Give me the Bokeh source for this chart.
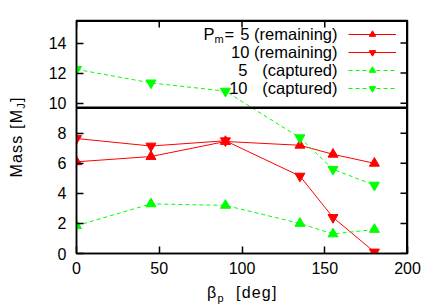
from bokeh.plotting import figure
from bokeh.models import Range1d, Span, Label, Legend, LegendItem, FixedTicker, Div
from bokeh.layouts import row, column
from bokeh.embed import file_html
from bokeh.resources import INLINE

# ---- data ----
beta = [0, 45, 90, 135, 155, 180]
rem5 = [6.1, 6.45, 7.45, 7.2, 6.6, 6.0]
rem10 = [7.65, 7.15, 7.5, 5.15, 2.4, 0.1]
cap5 = [1.85, 3.3, 3.2, 2.0, 1.3, 1.6]
cap10 = [12.25, 11.35, 10.8, 7.7, 5.6, 4.55]
threshold = 9.7
x_ticks = [0, 50, 100, 150, 200]
y_ticks = [0, 2, 4, 6, 8, 10, 12, 14]
X_MIN, X_MAX = 0, 200
Y_MIN, Y_MAX = 0, 15.5

FONT = "Liberation Sans"
W, H = 436, 305
YDW = 30          # width of the y-title strip
XDH = 25          # height of the x-title strip
PW, PH = W - YDW, H - XDH
FL, FT, FR, FB = 76, 20, 407, 253   # frame edges in page pixels
TICK = 7
p = figure(width=PW, height=PH, x_range=Range1d(X_MIN, X_MAX), y_range=Range1d(Y_MIN, Y_MAX),
           output_backend="svg", toolbar_location=None,
           min_border_left=FL - YDW, min_border_right=W - FR, min_border_top=FT,
           min_border_bottom=PH - FB)
p.xgrid.visible = False
p.ygrid.visible = False
p.outline_line_color = "black"
p.outline_line_width = 1.5
p.background_fill_color = "white"
p.border_fill_color = "white"

p.xaxis.ticker = FixedTicker(ticks=x_ticks)
p.yaxis.ticker = FixedTicker(ticks=y_ticks)
for ax in [p.xaxis[0], p.yaxis[0]]:
    ax.major_tick_in = TICK
    ax.major_tick_out = 0
    ax.minor_tick_line_color = None
    ax.major_tick_line_width = 1.5
    ax.axis_line_width = 1.5
    ax.major_label_text_font = FONT
    ax.major_label_text_font_size = "16px"
    ax.major_label_text_color = "black"
p.xaxis.major_label_standoff = 8
p.yaxis.major_label_standoff = 10

# mirrored inward ticks on the top and right edges
dy = TICK * (Y_MAX - Y_MIN) / (FB - FT)
dx = TICK * (X_MAX - X_MIN) / (FR - FL)
p.segment(x0=x_ticks, x1=x_ticks, y0=[Y_MAX] * len(x_ticks), y1=[Y_MAX - dy] * len(x_ticks),
          line_color="black", line_width=1.5)
p.segment(x0=[X_MAX] * len(y_ticks), x1=[X_MAX - dx] * len(y_ticks), y0=y_ticks, y1=y_ticks,
          line_color="black", line_width=1.5)
# top and right frame edges
p.add_layout(Span(location=Y_MAX, dimension="width", line_color="black", line_width=3))
p.add_layout(Span(location=X_MAX, dimension="height", line_color="black", line_width=3))

p.add_layout(Span(location=threshold, dimension="width", line_color="black", line_width=2.5))

RED = "#ff0000"
GREEN = "#00ff00"
MS = 10
l1 = p.line(beta, rem5, line_color=RED, line_width=1)
s1 = p.scatter(beta, rem5, marker="triangle", size=MS, fill_color=RED, line_color=RED)
l2 = p.line(beta, rem10, line_color=RED, line_width=1)
s2 = p.scatter(beta, rem10, marker="inverted_triangle", size=MS, fill_color=RED, line_color=RED)
l3 = p.line(beta, cap5, line_color=GREEN, line_width=1, line_dash="4 3")
s3 = p.scatter(beta, cap5, marker="triangle", size=MS, fill_color=GREEN, line_color=GREEN)
l4 = p.line(beta, cap10, line_color=GREEN, line_width=1, line_dash="4 3")
s4 = p.scatter(beta, cap10, marker="inverted_triangle", size=MS, fill_color=GREEN, line_color=GREEN)

legend = Legend(items=[LegendItem(label=" ", renderers=[l1, s1]),
                       LegendItem(label=" ", renderers=[l2, s2]),
                       LegendItem(label=" ", renderers=[l3, s3]),
                       LegendItem(label=" ", renderers=[l4, s4])],
                location=(272, 157), glyph_width=48, glyph_height=16, spacing=2,
                padding=0, margin=0, label_width=0, label_standoff=0, label_height=1,
                label_text_font_size="2px", label_text_color=None,
                border_line_color=None, background_fill_alpha=0)
p.add_layout(legend, "center")


def lab(text, x, y, size=16.5, align="left", baseline="middle", angle=0.0):
    # x, y: page pixels from the top-left; Label screen units are frame-relative, y up
    p.add_layout(Label(x=x - FL, y=FB - y, x_units="screen", y_units="screen", text=text,
                       text_font=FONT, text_font_size=f"{size}px", text_align=align,
                       text_baseline=baseline, angle=angle, text_color="black"))


# legend texts
lab("P", 203, 33)
lab("m", 214, 38, size=11)
lab("=", 224, 33)
lab("5 (remaining)", 337, 33, align="right")
lab("10 (remaining)", 337, 51, align="right")
lab("5", 247, 69, align="right")
lab("(captured)", 337, 69, align="right")
lab("10", 247, 87, align="right")
lab("(captured)", 337, 87, align="right")

# axis titles as HTML strips (subscripts)
FONT_CSS = ("font-family:'Liberation Sans',Arial,sans-serif;font-size:16px;line-height:16px;"
            "letter-spacing:1.2px;color:black;white-space:nowrap;")
ydiv = Div(width=YDW, height=H, margin=0, text=(
    f'<div style="position:relative;width:{YDW}px;height:{H}px;">'
    f'<div style="position:absolute;left:17px;top:137px;transform:translate(-50%,-50%) rotate(-90deg);{FONT_CSS}">'
    'Mass [M<sub style="font-size:11px;vertical-align:-3px;line-height:0">J</sub>]</div></div>'))
xdiv = Div(width=PW, height=XDH, margin=0, text=(
    f'<div style="position:relative;width:{PW}px;height:{XDH}px;">'
    f'<div style="position:absolute;left:{207 - YDW}px;top:5px;{FONT_CSS}">'
    '\u03b2<sub style="font-size:11px;vertical-align:-4px;line-height:0">p</sub>&nbsp;&nbsp;[deg]</div></div>'))

layout = row(ydiv, column(p, xdiv, spacing=0), spacing=0)
open("out.html", "w").write(file_html(layout, INLINE))
